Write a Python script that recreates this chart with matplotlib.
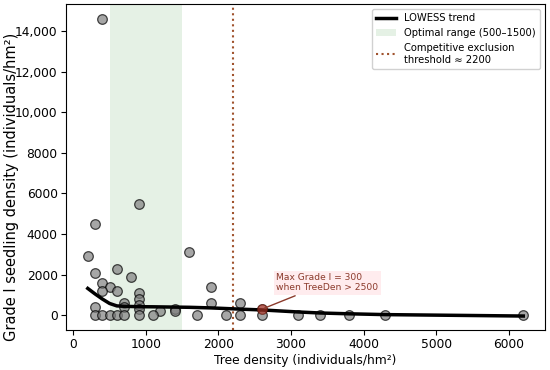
import matplotlib
matplotlib.use("Agg")
import matplotlib.pyplot as plt
from matplotlib.ticker import FuncFormatter, MultipleLocator
from matplotlib.lines import Line2D
from matplotlib.patches import Patch

# Scatter data: tree density vs Grade I seedling density
tree_density = [400, 900, 300, 200, 1600, 300, 600, 800, 400, 500, 400, 600,
                900, 900, 900, 900, 700, 700, 300, 1900, 1900, 1400, 1400, 1200,
                2300, 2600,
                300, 400, 500, 600, 700, 900, 1100, 1700, 2100, 2300, 2600,
                3100, 3400, 3800, 4300, 6200]
seedling_density = [14600, 5500, 4500, 2900, 3100, 2100, 2300, 1900, 1600, 1400, 1200, 1200,
                    1100, 800, 500, 300, 600, 400, 400, 1400, 600, 300, 200, 200,
                    600, 300,
                    0, 0, 0, 0, 0, 0, 0, 0, 0, 0, 0,
                    0, 0, 0, 0, 0]

# LOWESS trend
trend_x = [200, 300, 400, 500, 600, 700, 800, 900, 1100, 1200, 1400, 1600,
           1700, 1900, 2100, 2300, 2600, 3100, 3400, 3800, 4300, 6200]
trend_y = [1320, 1050, 800, 580, 460, 440, 430, 420, 415, 410, 400, 390,
           380, 360, 330, 300, 260, 160, 110, 70, 30, -40]

optimal_range = (500, 1500)
threshold = 2200
highlight_x, highlight_y = 2600, 300

fs = 8.8
fig = plt.figure(figsize=(5.5, 3.7), dpi=100)
ax = fig.add_axes([0.12, 0.108, 0.871, 0.881])

ax.axvspan(optimal_range[0], optimal_range[1], color="#3a9a3a", alpha=0.13, lw=0, zorder=0)
ax.axvline(threshold, color="#a0522d", linestyle=":", linewidth=1.5, zorder=1)

ax.scatter(tree_density, seedling_density, s=48, facecolor="gray", alpha=0.7,
           edgecolor="black", linewidth=0.9, zorder=3)
ax.plot(trend_x, trend_y, color="black", linewidth=2.5, zorder=4)
ax.scatter([highlight_x], [highlight_y], s=48, facecolor="#c0392b", alpha=0.6,
           edgecolor="#7a1f10", linewidth=0.8, zorder=5)

ax.annotate("Max Grade I = 300\nwhen TreeDen > 2500",
            xy=(highlight_x, highlight_y), xytext=(2800, 1600),
            fontsize=6.6, color="#8b3a2b", ha="left", va="center",
            bbox=dict(boxstyle="square,pad=0.25", facecolor="#ffe4e8", edgecolor="none", alpha=0.7),
            arrowprops=dict(arrowstyle="-", color="#8b3a2b", lw=1.0), zorder=6)

ax.set_xlabel("Tree density (individuals/hm²)", fontsize=fs, labelpad=2)
ax.set_ylabel("Grade I seedling density (individuals/hm²)", fontsize=10.5, labelpad=1)
ax.yaxis.set_label_coords(-0.098, 0.44)
ax.tick_params(labelsize=fs, length=3.5, pad=2.5)
ax.xaxis.set_major_locator(MultipleLocator(1000))
ax.yaxis.set_major_locator(MultipleLocator(2000))
ax.yaxis.set_major_formatter(FuncFormatter(lambda v, p: f"{v:,.0f}" if v >= 10000 else f"{v:.0f}"))
ax.set_xlim(-100, 6500)
ax.set_ylim(-730, 15330)

handles = [Line2D([0], [0], color="black", lw=2.5),
           Patch(facecolor="#3a9a3a", alpha=0.13, edgecolor="none"),
           Line2D([0], [0], color="#a0522d", linestyle=":", lw=1.5)]
labels = ["LOWESS trend", "Optimal range (500–1500)", "Competitive exclusion\nthreshold ≈ 2200"]
ax.legend(handles, labels, loc="upper right", fontsize=7.2, framealpha=0.9)

fig.savefig("out.png", dpi=100)
